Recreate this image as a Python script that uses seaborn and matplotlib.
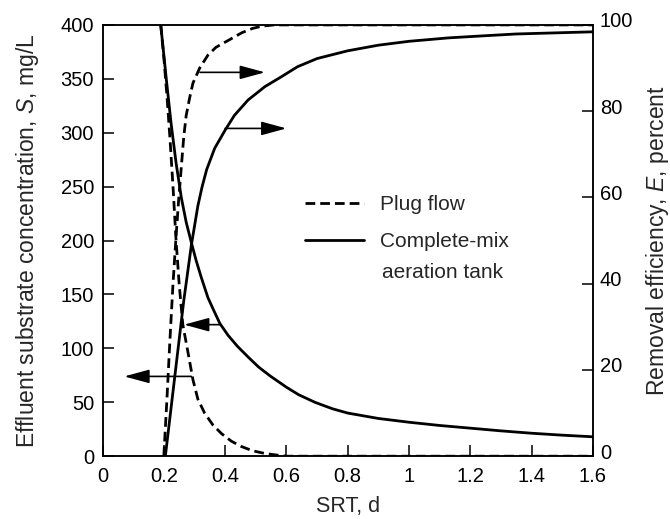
import numpy as np
import pandas as pd
import matplotlib
matplotlib.use('Agg')
import matplotlib.pyplot as plt
import matplotlib.transforms as mtransforms
import seaborn as sns

# SRT (d) vs effluent substrate S (mg/L)
cm_s_srt = [0.19, 0.208, 0.224, 0.24, 0.257, 0.273, 0.29, 0.305, 0.322, 0.344,
            0.36, 0.383, 0.41, 0.44, 0.475, 0.51, 0.549, 0.60, 0.64, 0.693,
            0.75, 0.80, 0.90, 1.0, 1.1, 1.2, 1.3, 1.4, 1.5, 1.6]
cm_s_val = [400, 350, 308, 272, 240, 217, 198, 182, 166, 147,
            137, 123, 112, 102, 92, 82.5, 74, 64, 57, 50,
            44, 40, 35, 31.5, 28.5, 26, 23.5, 21.3, 19.5, 18]

pf_s_srt = [0.19, 0.20, 0.21, 0.22, 0.23, 0.24, 0.25, 0.262, 0.279, 0.295,
            0.311, 0.333, 0.36, 0.388, 0.42, 0.453, 0.49, 0.53, 0.57, 0.60, 1.6]
pf_s_val = [400, 370, 335, 295, 250, 200, 160, 122, 96, 71,
            53, 40, 29, 21, 14, 9, 5, 2.5, 1, 0, 0]

# SRT (d) vs removal efficiency E (percent)
cm_e_srt = [0.205, 0.22, 0.235, 0.25, 0.265, 0.29, 0.311, 0.325, 0.34, 0.366,
            0.40, 0.43, 0.475, 0.53, 0.584, 0.636, 0.70, 0.80, 0.90, 1.0,
            1.13, 1.25, 1.35, 1.5, 1.6]
cm_e_val = [0, 9, 18, 27, 36, 49, 58, 62.5, 66.5, 71.4,
            75.6, 79, 82.6, 85.7, 88, 90.3, 92.2, 94, 95.3, 96.2,
            97, 97.5, 97.9, 98.2, 98.4]

pf_e_srt = [0.20, 0.21, 0.22, 0.23, 0.24, 0.248, 0.257, 0.265, 0.273, 0.284,
            0.295, 0.317, 0.344, 0.37, 0.40, 0.455, 0.49, 0.52, 0.56, 1.6]
pf_e_val = [0, 13, 27, 40, 51, 59, 67, 74, 79, 83,
            86.5, 90, 93, 94.8, 96, 98.2, 99.2, 99.7, 100, 100]

# arrows: (tail SRT, head SRT, level)
s_arrows = [(0.383, 0.266, 122), (0.29, 0.071, 74)]
e_arrows = [(0.318, 0.53, 89), (0.40, 0.60, 76)]

x_ticks = [0, 0.2, 0.4, 0.6, 0.8, 1.0, 1.2, 1.4, 1.6]
x_labels = ['0', '0.2', '0.4', '0.6', '0.8', '1', '1.2', '1.4', '1.6']
s_ticks = [0, 50, 100, 150, 200, 250, 300, 350, 400]
e_ticks = [0, 20, 40, 60, 80, 100]

sns.set_style('ticks')
plt.rcParams['font.family'] = ['Liberation Sans', 'DejaVu Sans']
plt.rcParams['mathtext.fontset'] = 'custom'
plt.rcParams['mathtext.it'] = 'Liberation Sans:italic'
plt.rcParams['mathtext.rm'] = 'Liberation Sans'
plt.rcParams['axes.edgecolor'] = 'black'
plt.rcParams['axes.linewidth'] = 1.1

fig, ax = plt.subplots(figsize=(6.7, 5.19), dpi=100)
fig.subplots_adjust(left=0.153, right=0.885, bottom=0.121, top=0.952)
ax2 = ax.twinx()

lw = 2.0
dash = (3.5, 1.8)
sns.lineplot(x=cm_s_srt, y=cm_s_val, ax=ax, color='black', lw=lw, sort=False,
             label='Complete-mix')
sns.lineplot(x=pf_s_srt, y=pf_s_val, ax=ax, color='black', lw=lw, sort=False,
             label='Plug flow')
ax.lines[-1].set_dashes(dash)
sns.lineplot(x=cm_e_srt, y=cm_e_val, ax=ax2, color='black', lw=lw, sort=False)
sns.lineplot(x=pf_e_srt, y=pf_e_val, ax=ax2, color='black', lw=lw, sort=False)
ax2.lines[-1].set_dashes(dash)

arrow_kw = dict(arrowstyle='-|>,head_length=1.1,head_width=0.3', color='black',
                lw=1.2, mutation_scale=14, shrinkA=0, shrinkB=0)
for x0, x1, lev in s_arrows:
    ax.annotate('', xy=(x1, lev), xytext=(x0, lev), arrowprops=arrow_kw)
for x0, x1, lev in e_arrows:
    ax2.annotate('', xy=(x1, lev), xytext=(x0, lev), arrowprops=arrow_kw)

ax.set_xlim(0, 1.6)
ax.set_ylim(0, 400)
ax2.set_ylim(0, 100)
ax.set_xticks(x_ticks)
ax.set_xticklabels(x_labels)
ax.set_yticks(s_ticks)
ax2.set_yticks(e_ticks)
for a in (ax, ax2):
    a.tick_params(direction='in', length=8, width=1.1, labelsize=14.5,
                  colors='black')
    for sp in a.spines.values():
        sp.set_visible(True)
        sp.set_color('black')
ax.tick_params(axis='x', pad=8)
ax.tick_params(axis='y', pad=6)
ax2.tick_params(axis='y', pad=5)
# right-hand numbers sit a little high in the original
shift = mtransforms.ScaledTranslation(0, 5 / 100, fig.dpi_scale_trans)
for lab in ax2.get_yticklabels():
    lab.set_transform(lab.get_transform() + shift)

ax.set_xlabel('SRT, d', fontsize=15.5, labelpad=7)
ax.set_ylabel(r'Effluent substrate concentration, $\mathit{S}$, mg/L', fontsize=16.5, labelpad=14)
ax2.set_ylabel(r'Removal efficiency, $\mathit{E}$, percent', fontsize=16.5, labelpad=8)

handles, labels = ax.get_legend_handles_labels()
ax.legend(handles[::-1], labels[::-1], loc='upper left', bbox_to_anchor=(0.375, 0.648),
          frameon=False, fontsize=15, handlelength=2.8, handletextpad=0.8,
          labelspacing=0.85)
ax.text(0.57, 0.427, 'aeration tank', transform=ax.transAxes, fontsize=15,
        ha='left', va='center')

fig.savefig('out.png', dpi=100)
